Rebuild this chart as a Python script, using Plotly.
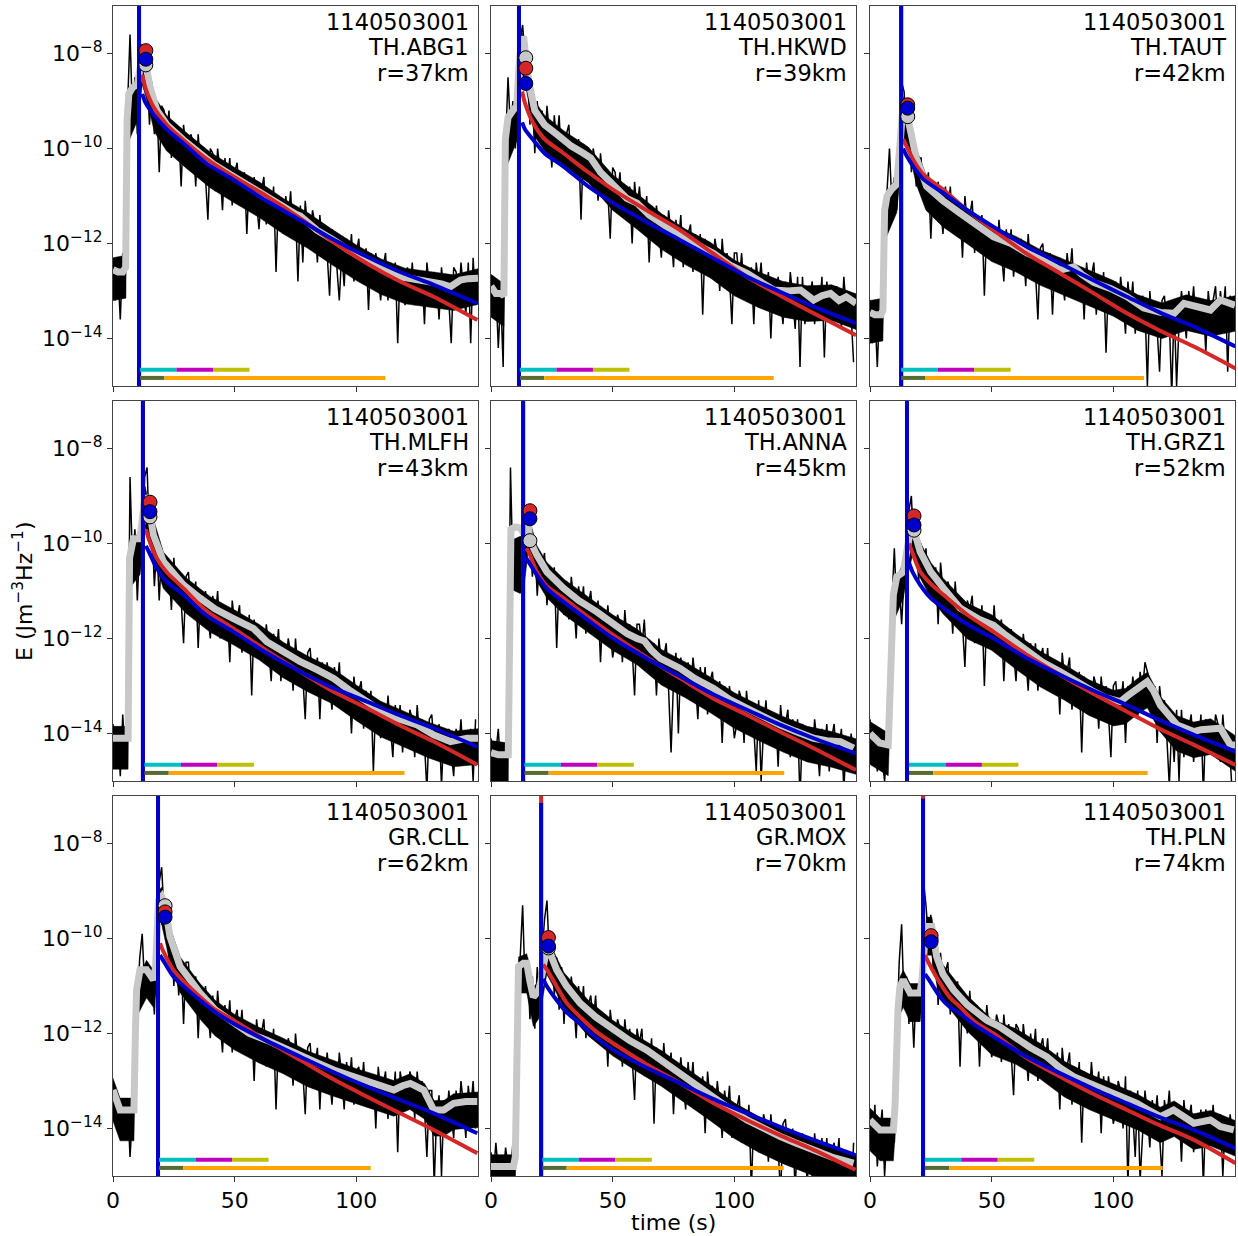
import plotly.graph_objects as go

# ---------------- data ----------------
EVENT_ID = "1140503001"
STATIONS = ["TH.ABG1", "TH.HKWD", "TH.TAUT", "TH.MLFH", "TH.ANNA", "TH.GRZ1", "GR.CLL", "GR.MOX", "TH.PLN"]
DIST_KM = [37, 39, 42, 43, 45, 52, 62, 70, 74]

X_TICKS = [0, 50, 100]
Y_TICKS = [1e-14, 1e-12, 1e-10, 1e-8]
Y_TICKTEXT = ["10<sup>\u221214</sup>", "10<sup>\u221212</sup>", "10<sup>\u221210</sup>", "10<sup>\u22128</sup>"]

# S arrival (vertical line), s
S_T = [10.7, 11.5, 12.8, 12.3, 13.2, 15.2, 18.5, 20.6, 21.8]
# top of blue arrival line (log10 E); red one reaches the frame top
BLUE_TOP_LOG = [-6.0, -6.0, -6.0, -6.0, -6.0, -6.0, -6.0, -7.15, -7.06]
# fit windows (bars at the bottom)
WIN_T = [11.1, 11.9, 12.8, 12.9, 13.7, 16.0, 18.9, 21.1, 22.5]
PHASE_LEN = 15.0
NOISE_LEN = 10.0
CODA_END = [111.9, 116.2, 112.6, 119.8, 120.5, 114.1, 105.9, 120.3, 120.3]
BAR_Y = [2.2e-15, 1.48e-15]

# peak markers (log10 E)
PEAK_T = [13.5, 14.3, 15.5, 15.2, 16.0, 18.1, 21.4, 23.6, 25.1]
GRAY_MARK = [-8.24, -8.09, -9.33, -9.44, -9.94, -9.72, -9.31, -10.2, -10.02]
RED_MARK = [-7.94, -8.31, -9.08, -9.13, -9.31, -9.42, -9.44, -9.98, -9.94]
BLUE_MARK = [-8.12, -8.63, -9.15, -9.33, -9.48, -9.61, -9.55, -10.16, -10.07]

# observed energy envelope, 1 s samples from t=0, in tenths of log10 E
OBS_E_TENTHS = [
    [-124,-132,-126,-136,-122,-129,
     -91,-76,-93,-85,-97,
     -81,-78,-84,-84,-95,-86,-97,-90,-105,-91,
     -92,-98,-92,-102,-96,-101,-96,-108,-95,-100,
     -104,-97,-99,-108,-97,-104,-100,-106,-115,-100,
     -101,-109,-100,-105,-113,-102,-107,-102,-112,-105,
     -103,-110,-108,-105,-118,-106,-113,-106,-111,-117,
     -109,-106,-116,-109,-114,-108,-126,-110,-113,-118,
     -110,-115,-109,-119,-113,-128,-112,-124,-111,-117,
     -120,-113,-116,-124,-114,-120,-116,-122,-131,-117,
     -118,-125,-132,-122,-129,-119,-124,-118,-128,-122,
     -119,-126,-125,-121,-134,-122,-128,-122,-127,-132,
     -125,-122,-132,-124,-130,-124,-141,-125,-128,-133,
     -125,-130,-124,-133,-127,-131,-126,-137,-124,-129,
     -132,-126,-128,-136,-125,-131,-127,-132,-141,-125,
     -126,-133,-124,-129,-135,-124,-141,-123,-133],
    [-127,-134,-129,-142,-131,-146,
     -99,-85,-96,-90,-100,-91,
     -77,-74,-81,-83,-95,-89,-101,-90,-98,
     -92,-100,-91,-97,-104,-93,-99,-93,-103,-97,
     -97,-95,-105,-98,-103,-98,-115,-99,-103,-107,
     -106,-100,-103,-111,-101,-107,-104,-109,-119,-104,
     -105,-110,-105,-114,-109,-113,-108,-120,-107,-113,
     -108,-115,-114,-110,-124,-112,-118,-112,-117,-123,
     -114,-121,-113,-118,-125,-115,-120,-114,-125,-118,
     -118,-116,-126,-118,-123,-118,-135,-119,-123,-127,
     -126,-119,-122,-130,-119,-126,-122,-127,-137,-122,
     -122,-128,-122,-131,-125,-130,-125,-137,-124,-129,
     -124,-132,-130,-126,-140,-128,-134,-127,-132,-137,
     -128,-135,-126,-131,-138,-127,-146,-127,-137,-131,
     -131,-128,-137,-129,-134,-127,-144,-128,-132,-136,
     -136,-129,-130,-138,-127,-134,-130,-135,-145],
    [-132,-141,-134,-146,-133,-138,
     -114,-109,-100,-112,-106,-113,-104,
     -86,-88,-97,-93,-105,-97,-108,-102,
     -102,-110,-109,-105,-119,-107,-114,-107,-112,-118,
     -108,-114,-108,-117,-112,-116,-112,-123,-110,-116,
     -114,-111,-122,-114,-119,-114,-131,-116,-119,-123,
     -117,-124,-115,-121,-128,-117,-122,-117,-127,-120,
     -125,-119,-121,-129,-118,-125,-121,-126,-136,-121,
     -120,-127,-126,-122,-135,-123,-130,-123,-127,-132,
     -122,-127,-121,-131,-125,-129,-125,-136,-124,-129,
     -127,-124,-135,-127,-132,-126,-143,-128,-131,-135,
     -128,-135,-127,-132,-139,-128,-134,-128,-139,-132,
     -137,-131,-133,-150,-130,-137,-133,-138,-147,-132,
     -131,-138,-136,-152,-133,-150,-137,-130,-135,-140,
     -130,-135,-129,-138,-133,-137,-132,-143,-130,-135,
     -132,-129,-138,-130,-135,-129,-147,-131,-134],
    [-138,-147,-140,-149,-136,-145,-141,
     -86,-104,-97,-112,-100,-108,
     -86,-84,-99,-96,-109,-100,-112,-101,
     -109,-103,-105,-114,-103,-110,-106,-112,-121,-107,
     -106,-114,-112,-108,-122,-110,-116,-110,-115,-120,
     -111,-116,-110,-120,-114,-118,-114,-125,-112,-117,
     -116,-113,-123,-116,-121,-115,-132,-116,-120,-124,
     -118,-125,-117,-122,-129,-119,-124,-118,-129,-122,
     -127,-120,-123,-131,-120,-127,-123,-128,-137,-123,
     -122,-129,-128,-124,-137,-125,-132,-125,-130,-135,
     -126,-131,-125,-135,-129,-134,-129,-140,-128,-133,
     -131,-129,-139,-131,-137,-131,-148,-133,-136,-141,
     -134,-141,-132,-138,-145,-134,-139,-134,-144,-137,
     -142,-135,-137,-145,-134,-141,-137,-142,-152,-137,
     -136,-143,-142,-138,-151,-139,-146,-139,-144,-149,
     -139,-144,-137,-146,-140,-144,-139,-150,-137],
    [-141,-149,-144,-139,-148,-143,-150,-142,
     -84,-106,-101,-110,-104,-115,
     -94,-100,-98,-107,-100,-111,-103,
     -105,-102,-113,-105,-111,-105,-122,-107,-110,-115,
     -108,-116,-107,-112,-120,-109,-114,-109,-119,-113,
     -110,-117,-116,-112,-125,-114,-120,-113,-119,-124,
     -121,-115,-117,-125,-114,-121,-117,-122,-132,-117,
     -117,-122,-116,-126,-121,-125,-121,-132,-120,-125,
     -124,-121,-131,-144,-129,-123,-140,-124,-128,-132,
     -125,-133,-124,-129,-137,-126,-131,-126,-136,-129,
     -127,-134,-132,-129,-142,-130,-137,-130,-135,-141,
     -138,-131,-133,-142,-131,-137,-134,-139,-148,-133,
     -150,-139,-133,-142,-137,-141,-136,-147,-134,-140,
     -138,-135,-145,-137,-143,-137,-154,-138,-141,-146,
     -139,-146,-137,-142,-149,-139,-144,-138,-148,-141,
     -138,-145,-143,-139,-152,-141,-147,-140,-145],
    [-137,-145,-139,-148,-141,-146,-150,-143,-131,
     -113,-101,-114,-108,-117,-107,-110,
     -93,-90,-101,-98,-108,
     -100,-106,-101,-111,-105,-110,-105,-117,-104,-110,
     -114,-108,-110,-119,-108,-115,-112,-117,-126,-112,
     -114,-111,-121,-114,-119,-113,-130,-115,-118,-122,
     -113,-121,-119,-116,-129,-118,-124,-118,-123,-129,
     -120,-127,-119,-124,-131,-121,-126,-121,-131,-124,
     -122,-128,-122,-131,-125,-130,-125,-136,-123,-129,
     -127,-124,-135,-127,-132,-127,-144,-128,-132,-136,
     -135,-128,-130,-139,-128,-134,-130,-136,-145,-130,
     -129,-136,-134,-129,-142,-130,-135,-128,-133,-137,
     -127,-131,-125,-127,-129,-134,-130,-142,-130,-135,
     -133,-141,-151,-138,-146,-135,-150,-135,-145,-139,
     -139,-136,-146,-138,-143,-136,-153,-137,-140,-144,
     -143,-136,-138,-146,-136,-143,-140,-145,-154],
    [-130,-138,-133,-142,-135,-140,-134,-146,-137,-130,
     -113,-104,-99,-110,-105,-112,-108,-116,-100,
     -88,-85,-95,-92,-105,-99,-110,
     -102,-112,-105,-118,-105,
     -105,-113,-111,-108,-121,-110,-116,-110,-115,-121,
     -112,-120,-111,-117,-124,-114,-119,-113,-124,-117,
     -115,-121,-115,-124,-119,-123,-118,-130,-117,-122,
     -120,-117,-127,-120,-125,-119,-136,-121,-124,-128,
     -127,-121,-123,-131,-120,-126,-123,-128,-137,-123,
     -122,-129,-127,-123,-136,-125,-131,-124,-129,-135,
     -126,-133,-124,-129,-136,-126,-131,-125,-135,-128,
     -127,-132,-126,-135,-129,-134,-129,-140,-127,-132,
     -131,-128,-138,-130,-135,-128,-145,-128,-131,-135,
     -135,-128,-130,-138,-128,-134,-130,-136,-146,-132,
     -132,-152,-137,-133,-150,-134,-140,-132,-137,-142,
     -132,-139,-130,-135,-142,-131,-136,-130,-140],
    [-145,-150,-143,-149,-146,-150,-144,-148,-150,-143,-147,
     -112,-104,-93,-110,-104,-117,-108,-119,-106,-114,
     -103,-96,-92,-104,-100,-112,-104,
     -115,-106,-118,
     -108,-116,-108,-113,-121,-110,-116,-110,-121,-114,
     -112,-118,-112,-122,-116,-121,-116,-127,-115,-120,
     -123,-117,-119,-127,-117,-123,-119,-125,-134,-119,
     -122,-119,-129,-122,-127,-121,-139,-123,-126,-131,
     -122,-129,-128,-124,-137,-126,-132,-125,-131,-136,
     -126,-132,-126,-135,-130,-134,-129,-141,-128,-134,
     -131,-138,-130,-135,-142,-132,-137,-131,-142,-135,
     -136,-133,-143,-136,-141,-135,-153,-137,-140,-145,
     -144,-137,-139,-147,-137,-143,-139,-144,-154,-139,
     -138,-145,-144,-140,-153,-141,-148,-141,-146,-151,
     -142,-150,-141,-146,-153,-142,-148,-142,-152,-145,
     -143,-148,-142,-152,-146,-150,-145,-156,-143],
    [-137,-145,-135,-148,-141,-136,-150,-140,-146,-138,-143,
     -120,-105,-97,-114,-108,-118,-111,-123,-110,-117,-108,
     -88,-93,-100,-95,-107,-100,
     -114,-103,-110,
     -107,-105,-116,-109,-115,-109,-127,-112,-115,-120,
     -111,-119,-117,-114,-127,-115,-121,-114,-119,-125,
     -122,-116,-118,-126,-116,-122,-118,-124,-133,-118,
     -119,-127,-118,-123,-130,-120,-125,-119,-130,-123,
     -121,-127,-121,-130,-125,-129,-124,-136,-123,-129,
     -127,-124,-135,-127,-132,-126,-143,-128,-131,-135,
     -126,-133,-132,-128,-141,-129,-136,-129,-134,-139,
     -136,-130,-132,-140,-129,-152,-132,-137,-146,-132,
     -151,-140,-132,-137,-144,-134,-139,-133,-143,-150,
     -134,-138,-132,-141,-135,-140,-135,-147,-134,-140,
     -138,-135,-145,-137,-142,-136,-152,-136,-139,-143,
     -135,-142,-140,-137,-150,-138,-144,-137,-142],
]

# dense core of the observed envelope (where the black trace fills in), log10 E
CORE_T = [
    [0,5.3,5.7,10.5,12,14,17,22,30,40,50,60,70,80,90,100,110,120,130,140,150],
    [0,5.3,5.9,10.6,12.5,14.5,18,22,30,40,50,60,70,80,90,100,110,120,130,140,150],
    [0,5.3,6.0,11,13.5,15.5,19,23,30,40,50,60,70,80,90,100,110,120,130,140,150],
    [0,6.2,6.8,11.1,13.2,15.2,20.7,30,40,50,60,70,80,90,100,110,120,130,140,150],
    [0,7.1,7.6,12,13.5,15.3,18.8,23,30,40,50,60,70,80,90,100,110,120,130,140,150],
    [0,7.5,8.4,9.6,13.7,15,17.5,20.6,25,30,40,50,60,70,80,90,100,105,110,114,119,126,133,140,150],
    [0,2.9,8.6,9.2,9.7,13.8,16.6,17.5,18.7,20.0,23.4,27.6,35.8,42,50,60,70,80,90,100,110,115.4,122,128,132,136,140,150],
    [0,9.2,10.0,10.8,11.3,14.7,17.4,19.5,20.5,22.9,25,30,40,50,60,70,80,90,100,110,120,130,140,150],
    [0,4.1,9.6,10.3,11.5,12.3,13.7,16.5,20.6,21.5,23.3,25.4,27.4,30,40,50,60,70,80,90,100,110,119.3,125,133,140,150],
]
CORE_HI = [
    [-12.3,-12.25,-9.1,-8.45,-7.85,-8.2,-8.9,-9.3,-9.66,-10.08,-10.4,-10.7,-11.05,-11.35,-11.7,-12.03,-12.32,-12.52,-12.59,-12.66,-12.53],
    [-12.65,-12.85,-9.6,-8.9,-7.5,-7.9,-9.0,-9.3,-9.63,-9.97,-10.55,-10.95,-11.37,-11.7,-11.97,-12.35,-12.6,-12.8,-12.89,-12.87,-13.06],
    [-13.2,-13.15,-11.1,-10.55,-8.9,-9.15,-10.0,-10.55,-10.9,-11.26,-11.63,-11.85,-12.13,-12.34,-12.56,-12.78,-13.08,-13.25,-13.08,-13.2,-13.1],
    [-13.85,-13.85,-10.1,-9.7,-8.8,-9.24,-10.18,-10.72,-11.12,-11.4,-11.7,-12.08,-12.37,-12.62,-12.98,-13.32,-13.54,-13.77,-13.95,-13.9],
    [-14.15,-14.2,-9.95,-9.85,-9.85,-9.4,-10.04,-10.4,-10.75,-11.13,-11.5,-11.8,-12.23,-12.5,-12.81,-13.14,-13.4,-13.64,-13.85,-13.96,-14.11],
    [-13.75,-13.99,-12.75,-10.88,-10.4,-10.0,-9.5,-9.97,-10.4,-10.73,-11.26,-11.5,-11.9,-12.27,-12.55,-12.87,-13.09,-13.05,-12.84,-12.71,-13.2,-13.62,-13.76,-13.69,-14.04],
    [-12.94,-13.36,-13.36,-11.75,-10.88,-10.46,-10.67,-10.4,-9.0,-8.92,-9.76,-10.39,-10.95,-11.3,-11.6,-11.87,-12.1,-12.37,-12.56,-12.74,-12.9,-12.99,-12.85,-13.05,-13.41,-13.41,-13.27,-13.23],
    [-14.55,-14.55,-14.35,-11.75,-10.39,-10.32,-11.03,-10.9,-10.7,-9.97,-10.2,-10.72,-11.3,-11.72,-12.05,-12.36,-12.72,-13.08,-13.46,-13.75,-13.99,-14.2,-14.4,-14.55],
    [-13.57,-13.78,-13.78,-13.25,-11.3,-10.81,-10.67,-10.95,-10.95,-10.6,-9.55,-9.55,-10.18,-10.55,-11.2,-11.7,-11.9,-12.21,-12.59,-12.85,-13.06,-13.28,-13.55,-13.42,-13.69,-13.62,-13.83],
]
CORE_LO = [
    [-13.2,-13.15,-9.95,-9.35,-8.65,-9.0,-9.65,-10.05,-10.41,-10.83,-11.15,-11.45,-11.8,-12.1,-12.45,-12.78,-13.07,-13.27,-13.34,-13.41,-13.28],
    [-13.55,-13.75,-10.45,-9.85,-8.35,-8.75,-9.75,-10.05,-10.38,-10.72,-11.3,-11.7,-12.12,-12.45,-12.72,-13.1,-13.35,-13.55,-13.64,-13.62,-13.81],
    [-14.1,-14.05,-11.95,-11.35,-9.75,-9.95,-10.75,-11.3,-11.65,-12.01,-12.38,-12.6,-12.88,-13.09,-13.31,-13.53,-13.83,-14.0,-13.83,-13.95,-13.85],
    [-14.75,-14.75,-10.95,-10.65,-9.65,-10.05,-10.95,-11.47,-11.87,-12.15,-12.45,-12.83,-13.12,-13.37,-13.73,-14.07,-14.29,-14.52,-14.7,-14.65],
    [-15.05,-15.1,-10.95,-11.05,-10.95,-10.15,-10.79,-11.15,-11.5,-11.88,-12.25,-12.55,-12.98,-13.25,-13.56,-13.89,-14.15,-14.39,-14.6,-14.71,-14.86],
    [-14.65,-14.89,-13.65,-11.65,-11.15,-10.75,-10.25,-10.72,-11.15,-11.48,-12.01,-12.25,-12.65,-13.02,-13.3,-13.62,-13.84,-13.8,-13.59,-13.46,-13.95,-14.37,-14.51,-14.44,-14.79],
    [-13.84,-14.26,-14.26,-12.65,-11.65,-11.25,-11.45,-11.15,-9.75,-9.7,-10.51,-11.14,-11.7,-12.05,-12.35,-12.62,-12.85,-13.12,-13.31,-13.49,-13.65,-13.74,-13.6,-13.8,-14.16,-14.16,-14.02,-13.98],
    [-15.45,-15.45,-15.25,-12.65,-11.15,-11.15,-11.85,-11.7,-11.5,-10.75,-10.95,-11.47,-12.05,-12.47,-12.8,-13.11,-13.47,-13.83,-14.21,-14.5,-14.74,-14.95,-15.15,-15.3],
    [-14.47,-14.68,-14.68,-14.15,-12.05,-11.6,-11.45,-11.75,-11.75,-11.4,-10.35,-10.35,-10.95,-11.3,-11.95,-12.45,-12.65,-12.96,-13.34,-13.6,-13.81,-14.03,-14.3,-14.17,-14.44,-14.37,-14.58],
]

# smoothed envelope (gray), time (s) and log10 E
SMOOTH_T = [
    [0,2,4,5.2,5.8,6.5,8,10,11,12,13,14,15.2,18,22.1,28.9,35,41.3,49.5,56,63.2,70,75,77,79,83.8,90.7,97,104.4,111,118.1,125,131.8,135,138.7,142.8,146,150],
    [0,2,4,5.3,5.9,7,9,10.6,11.5,12.5,13.5,14.5,15.5,18,22,27,33,38,41,45,50,55.8,60,65,72.3,80,91.5,98,105.2,112,116.2,122,127.2,132.6,136,139.5,143,146,150],
    [0,2,4.5,5.3,6.0,7,9,11,12.5,13.5,14.5,15.5,17,19,23.3,30,37,44,50.8,58,64.5,71,78.2,83.7,87,91.9,99,105.6,112.5,119.3,125,129,134,139.9,144,150],
    [0,3,6.2,6.8,7.5,8.4,11.1,12,13.2,14.4,15.2,16.6,20.7,28.9,35.8,42,49.5,55,57.8,63.2,70,77,84,90.7,97,104.4,112.6,119,125,131.8,138.7,145.5,150],
    [0,3,7.1,7.6,8.2,10,12,13.5,14.5,15.3,16.0,18.8,23,29.8,36,43.5,50,56,60,63,66,69.6,77.8,84,91.5,98,105.2,112,118.9,125,132.6,138,143.6,149],
    [0,2,4,7.5,8.4,9.6,11,13.7,15,16.5,17.5,18.1,20.6,25,30.2,37,45,50.8,55,64.5,71,78.2,85,91.9,97,102.9,106,109.7,113.9,116.5,119.3,126.2,133,136,139.9,144,148.1,150],
    [0,2.9,5.6,8.6,9.2,9.7,11.1,13.8,16.6,17.5,18.7,20.0,21.4,23.4,27.6,35.8,42,49.5,56,63.2,70,77,84,90.7,98.9,104.4,110,115.4,119,122.2,127.7,131.8,135.9,140,145,149.7],
    [0,5,9.2,10.0,10.8,11.3,13.3,14.7,16,17.4,19.5,20.5,22.9,23.6,25,27.0,31,36.6,43,50.3,57,64.1,71,77.8,84,91.5,98,105.2,112,118.9,125,132.6,140,149],
    [0,4.1,9.6,10.3,11.5,12.3,13.7,15,16.5,20.6,21.5,22.3,23.3,25.4,27.4,30,34.3,40,48,53,59,66,72.7,78,83.7,90,97.4,103,109.7,114,119.3,124.8,129,133.1,137,139.9,144,149.5],
]
SMOOTH_LOG = [
    [-12.55,-12.6,-12.6,-12.5,-9.4,-8.85,-8.72,-8.65,-8.35,-8.05,-8.1,-8.4,-8.7,-9.19,-9.5,-9.82,-10.05,-10.33,-10.59,-10.8,-11.0,-11.25,-11.38,-11.42,-11.5,-11.72,-11.93,-12.15,-12.35,-12.55,-12.7,-12.76,-12.8,-12.85,-12.91,-12.77,-12.74,-12.73],
    [-12.9,-13.05,-13.05,-13.1,-9.8,-9.35,-9.2,-9.1,-8.3,-7.7,-7.7,-8.1,-8.6,-9.2,-9.5,-9.7,-9.95,-10.1,-10.2,-10.5,-10.75,-11.05,-11.15,-11.4,-11.65,-11.9,-12.21,-12.45,-12.63,-12.85,-12.98,-13.0,-12.98,-13.19,-13.1,-13.05,-13.2,-13.12,-13.26],
    [-13.45,-13.5,-13.5,-13.4,-11.3,-11.0,-10.85,-10.75,-9.8,-9.1,-9.1,-9.35,-9.6,-10.2,-10.8,-11.1,-11.36,-11.6,-11.86,-12.0,-12.2,-12.35,-12.56,-12.49,-12.65,-12.82,-12.95,-13.12,-13.36,-13.45,-13.47,-13.26,-13.33,-13.4,-13.19,-13.3],
    [-14.1,-14.1,-14.1,-10.3,-10.0,-9.9,-9.9,-9.5,-9.0,-9.1,-9.44,-9.82,-10.38,-10.87,-11.15,-11.38,-11.58,-11.72,-11.79,-12.07,-12.28,-12.49,-12.66,-12.84,-13.08,-13.33,-13.61,-13.72,-13.82,-14.03,-14.17,-14.1,-14.1],
    [-14.4,-14.45,-14.45,-10.2,-9.7,-9.65,-9.67,-9.8,-9.6,-9.6,-9.94,-10.24,-10.6,-10.94,-11.2,-11.44,-11.7,-11.9,-12.0,-12.05,-12.25,-12.42,-12.63,-12.85,-13.05,-13.28,-13.47,-13.66,-13.82,-13.95,-14.1,-14.15,-14.17,-14.31],
    [-14.0,-14.1,-14.2,-14.24,-13.0,-11.08,-10.7,-10.6,-10.2,-9.75,-9.7,-9.72,-10.17,-10.6,-10.94,-11.36,-11.6,-11.72,-11.9,-12.28,-12.5,-12.7,-12.92,-13.12,-13.25,-13.33,-13.2,-13.05,-12.91,-13.1,-13.4,-13.82,-13.96,-13.92,-13.89,-13.89,-14.24,-14.24],
    [-13.19,-13.61,-13.61,-13.61,-12.0,-11.08,-10.66,-10.66,-10.87,-10.6,-9.2,-9.12,-9.31,-9.96,-10.59,-11.15,-11.5,-11.79,-12.0,-12.14,-12.3,-12.49,-12.62,-12.77,-12.91,-12.98,-13.1,-13.19,-13.1,-13.05,-13.19,-13.61,-13.61,-13.47,-13.43,-13.43],
    [-14.8,-14.78,-14.8,-14.6,-12.0,-10.59,-10.52,-10.52,-10.9,-11.23,-11.1,-10.9,-10.17,-10.2,-10.4,-10.66,-11.0,-11.36,-11.65,-11.93,-12.15,-12.35,-12.6,-12.84,-13.1,-13.33,-13.58,-13.82,-14.0,-14.17,-14.3,-14.45,-14.6,-14.73],
    [-13.82,-14.03,-14.03,-13.5,-11.5,-11.01,-10.87,-11.0,-11.15,-11.15,-10.8,-10.2,-9.75,-9.75,-10.38,-10.75,-11.08,-11.4,-11.72,-11.85,-12.07,-12.3,-12.49,-12.72,-12.91,-13.05,-13.19,-13.33,-13.47,-13.6,-13.75,-13.61,-13.75,-13.89,-13.85,-13.82,-13.96,-14.03],
]

# model 1 (red) and model 2 (blue), time (s) and log10 E
RED_T = [
    [12.0,13.5,16.6,22.1,28.9,38,49.5,63,77.0,90,104.4,118,131.8,149.7],
    [12.8,14,17.4,22,29.8,40,50.3,64,77.8,91,105.2,119,132.6,150],
    [13.6,15,17.8,22,30.2,40,50.8,64,78.2,92,105.6,119,133.1,150.2],
    [13.5,15,18,22,28.9,38,49.5,63,77,90,104.4,118,131.8,149.7],
    [14.4,15.4,18.8,23,29.8,40,50.3,64,77.8,91,105.2,119,132.6,150],
    [16.0,17.5,20.6,25,30.2,40,50.8,64,78.2,92,105.6,119,133.1,150.2],
    [19.3,20.5,24.8,30,35.8,42,49.5,63,77,90,104.4,118,131.8,149.7],
    [21.4,22.9,27.0,31,36.6,43,50.3,64,77.8,91,105.2,119,132.6,149.8],
    [22.6,24,28.8,33,37.0,43,50.8,64,78.2,92,105.6,119,133.1,150.2],
]
RED_LOG = [
    [-8.45,-8.75,-9.12,-9.5,-9.82,-10.2,-10.59,-11.0,-11.47,-11.95,-12.42,-12.8,-13.12,-13.61],
    [-8.8,-9.05,-9.47,-9.8,-10.1,-10.5,-10.87,-11.3,-11.72,-12.2,-12.7,-13.1,-13.47,-13.93],
    [-9.8,-9.95,-10.24,-10.55,-10.87,-11.3,-11.72,-12.2,-12.63,-13.05,-13.47,-13.83,-14.17,-14.63],
    [-9.7,-9.95,-10.31,-10.6,-10.94,-11.4,-11.79,-12.25,-12.7,-13.1,-13.47,-13.83,-14.17,-14.66],
    [-10.1,-10.17,-10.59,-10.9,-11.15,-11.55,-11.93,-12.4,-12.84,-13.25,-13.61,-13.97,-14.31,-14.77],
    [-10.0,-10.2,-10.59,-10.85,-11.08,-11.5,-11.86,-12.33,-12.77,-13.17,-13.54,-13.9,-14.24,-14.66],
    [-10.1,-10.25,-10.66,-10.95,-11.23,-11.5,-11.72,-12.15,-12.56,-12.95,-13.33,-13.68,-14.03,-14.52],
    [-10.55,-10.65,-11.01,-11.35,-11.65,-11.95,-12.21,-12.65,-13.05,-13.45,-13.82,-14.15,-14.45,-14.87],
    [-10.35,-10.5,-10.94,-11.25,-11.44,-11.75,-12.0,-12.5,-12.91,-13.28,-13.61,-13.93,-14.24,-14.73],
]
BLUE_T = RED_T
BLUE_LOG = [
    [-8.85,-9.05,-9.28,-9.6,-9.89,-10.3,-10.66,-11.1,-11.51,-11.9,-12.28,-12.6,-12.87,-13.26],
    [-9.45,-9.6,-9.82,-10.1,-10.38,-10.8,-11.15,-11.55,-11.93,-12.3,-12.7,-13.02,-13.33,-13.68],
    [-10.0,-10.15,-10.38,-10.65,-10.94,-11.3,-11.65,-12.05,-12.42,-12.78,-13.12,-13.45,-13.75,-14.17],
    [-10.05,-10.2,-10.52,-10.8,-11.08,-11.5,-11.86,-12.3,-12.7,-13.03,-13.33,-13.62,-13.89,-14.28],
    [-10.3,-10.38,-10.66,-10.95,-11.23,-11.62,-12.0,-12.42,-12.8,-13.17,-13.5,-13.82,-14.1,-14.42],
    [-10.4,-10.6,-10.87,-11.15,-11.36,-11.7,-12.0,-12.4,-12.77,-13.1,-13.4,-13.72,-14.03,-14.38],
    [-10.35,-10.45,-10.8,-11.05,-11.3,-11.55,-11.79,-12.15,-12.49,-12.8,-13.12,-13.4,-13.68,-14.1],
    [-10.85,-11.0,-11.3,-11.55,-11.79,-12.08,-12.35,-12.72,-13.05,-13.37,-13.68,-13.97,-14.24,-14.56],
    [-10.75,-10.85,-11.23,-11.45,-11.58,-11.82,-12.07,-12.48,-12.84,-13.17,-13.47,-13.76,-14.03,-14.42],
]

# ---------------- styling / layout ----------------
W, H = 1238, 1236
COL_PX = [(113, 478), (491, 856), (870, 1235)]
ROW_PX = [(6, 386), (401, 781), (796, 1176)]
FONT = "DejaVu Sans"
C_RED = "#d62728"
C_BLUE = "#0000cc"
C_GRAY = "#c8c8c8"

fig = go.Figure()
layout = dict(
    width=W, height=H, margin=dict(l=0, r=0, t=0, b=0, autoexpand=False),
    paper_bgcolor="white", plot_bgcolor="white", showlegend=False,
    font=dict(family=FONT, size=22, color="black"),
)
annotations = []

for i in range(9):
    r, c = divmod(i, 3)
    n = "" if i == 0 else str(i + 1)
    xa, ya = "x" + n, "y" + n
    layout["xaxis" + n] = dict(
        domain=[COL_PX[c][0] / W, COL_PX[c][1] / W], anchor=ya, range=[0, 150],
        automargin=False,
        tickmode="array", tickvals=X_TICKS, ticktext=[str(v) for v in X_TICKS],
        showticklabels=(r == 2), ticks="outside", ticklen=5, tickwidth=1, tickcolor="#333",
        showline=True, mirror=True, linecolor="#444", linewidth=1,
        showgrid=False, zeroline=False, tickfont=dict(size=22, family=FONT, color="black"),
    )
    layout["yaxis" + n] = dict(
        domain=[1 - ROW_PX[r][1] / H, 1 - ROW_PX[r][0] / H], anchor=xa,
        automargin=False,
        type="log", range=[-15, -7],
        tickmode="array", tickvals=Y_TICKS, ticktext=Y_TICKTEXT,
        showticklabels=(c == 0), ticks="outside", ticklen=5, tickwidth=1, tickcolor="#333",
        showline=True, mirror=True, linecolor="#444", linewidth=1,
        showgrid=False, zeroline=False, tickfont=dict(size=22, family=FONT, color="black"),
    )

    # dense core of the observed trace
    ct = CORE_T[i]
    fig.add_trace(go.Scatter(
        x=ct + ct[::-1],
        y=[10 ** v for v in CORE_HI[i]] + [10 ** v for v in CORE_LO[i][::-1]],
        xaxis=xa, yaxis=ya, mode="lines", fill="toself", fillcolor="black",
        line=dict(color="black", width=0.5), hoverinfo="skip"))
    obs = OBS_E_TENTHS[i]
    fig.add_trace(go.Scatter(
        x=list(range(len(obs))), y=[10 ** (v / 10.0) for v in obs],
        xaxis=xa, yaxis=ya, mode="lines", line=dict(color="black", width=1.5),
        hoverinfo="skip"))
    fig.add_trace(go.Scatter(
        x=SMOOTH_T[i], y=[10 ** v for v in SMOOTH_LOG[i]],
        xaxis=xa, yaxis=ya, mode="lines", line=dict(color=C_GRAY, width=7),
        hoverinfo="skip"))
    fig.add_trace(go.Scatter(
        x=RED_T[i], y=[10 ** v for v in RED_LOG[i]],
        xaxis=xa, yaxis=ya, mode="lines",
        line=dict(color=C_RED, width=4, shape="spline", smoothing=0.8), hoverinfo="skip"))
    fig.add_trace(go.Scatter(
        x=BLUE_T[i], y=[10 ** v for v in BLUE_LOG[i]],
        xaxis=xa, yaxis=ya, mode="lines",
        line=dict(color=C_BLUE, width=4, shape="spline", smoothing=0.8), hoverinfo="skip"))
    # arrival lines
    fig.add_trace(go.Scatter(
        x=[S_T[i], S_T[i]], y=[1e-16, 1e-6], xaxis=xa, yaxis=ya, mode="lines",
        line=dict(color=C_RED, width=4), hoverinfo="skip"))
    fig.add_trace(go.Scatter(
        x=[S_T[i], S_T[i]], y=[1e-16, 10 ** BLUE_TOP_LOG[i]], xaxis=xa, yaxis=ya, mode="lines",
        line=dict(color=C_BLUE, width=4), hoverinfo="skip"))
    # window bars
    w0 = WIN_T[i]
    bars = [
        (w0, w0 + PHASE_LEN, BAR_Y[0], "#00bfbf"),
        (w0 + PHASE_LEN, w0 + 2 * PHASE_LEN, BAR_Y[0], "#bf00bf"),
        (w0 + 2 * PHASE_LEN, w0 + 3 * PHASE_LEN, BAR_Y[0], "#bfbf00"),
        (w0, w0 + NOISE_LEN, BAR_Y[1], "#556b2f"),
        (w0 + NOISE_LEN, CODA_END[i], BAR_Y[1], "#ffa500"),
    ]
    for a, b, yv, col in bars:
        fig.add_trace(go.Scatter(
            x=[a, b], y=[yv, yv], xaxis=xa, yaxis=ya, mode="lines",
            line=dict(color=col, width=4), hoverinfo="skip"))
    # peak markers
    for lv, col in ((GRAY_MARK[i], C_GRAY), (RED_MARK[i], C_RED), (BLUE_MARK[i], C_BLUE)):
        fig.add_trace(go.Scatter(
            x=[PEAK_T[i]], y=[10 ** lv], xaxis=xa, yaxis=ya, mode="markers",
            marker=dict(size=14, color=col, line=dict(color="black", width=1)),
            hoverinfo="skip"))

    for txt, dy in ((EVENT_ID, 15.7), (STATIONS[i], 41.0), ("r=%dkm" % DIST_KM[i], 67.3)):
        annotations.append(dict(
            x=(COL_PX[c][1] - 7) / W, y=1 - (ROW_PX[r][0] + dy) / H,
            xref="paper", yref="paper", xanchor="right", yanchor="middle",
            text=txt, showarrow=False, font=dict(size=22.5, family=FONT, color="black")))

annotations.append(dict(
    x=(COL_PX[1][0] + COL_PX[1][1]) / 2 / W, y=1 - 1222 / H, xref="paper", yref="paper",
    xanchor="center", yanchor="middle", text="time (s)", showarrow=False,
    font=dict(size=22, family=FONT, color="black")))
annotations.append(dict(
    x=23 / W, y=1 - 591 / H, xref="paper", yref="paper",
    xanchor="center", yanchor="middle", textangle=-90,
    text="E (Jm<sup>\u22123</sup>Hz<sup>\u22121</sup>)", showarrow=False,
    font=dict(size=22, family=FONT, color="black")))

layout["annotations"] = annotations
fig.update_layout(**layout)
fig.write_html("out.html")
